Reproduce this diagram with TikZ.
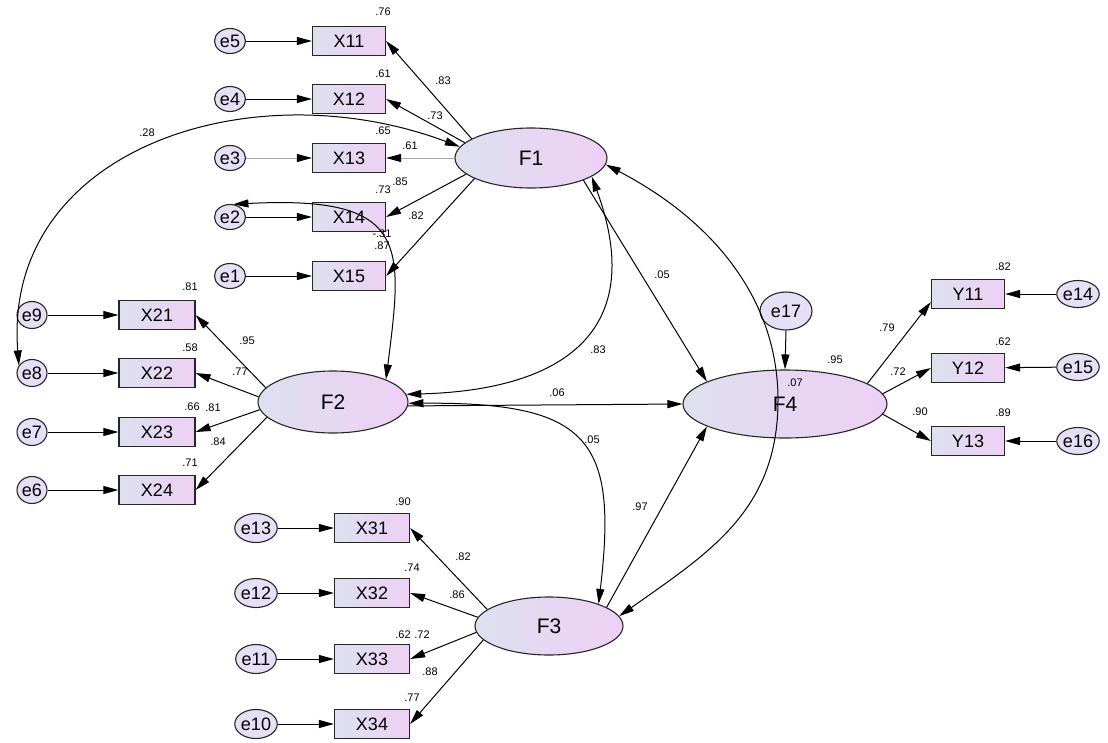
\documentclass[tikz,border=0pt]{standalone}
\usepackage{fontspec}
\setmainfont{Liberation Sans}
\usetikzlibrary{shapes.geometric,arrows.meta}
\definecolor{boxL}{RGB}{222,224,240}
\definecolor{boxR}{RGB}{238,208,244}
\definecolor{errC}{RGB}{230,224,246}
\definecolor{lineG}{RGB}{170,170,170}
\begin{document}
\begin{tikzpicture}[x=1pt,y=-1pt,
  obs/.style={rectangle, draw=black!85, line width=1.2pt, minimum width=73pt, minimum height=29pt, inner sep=0pt, left color=boxL, right color=boxR, font=\fontsize{18}{18}\selectfont},
  lat/.style={ellipse, draw=black!85, line width=1.1pt, inner sep=0pt, left color=boxL, right color=boxR, font=\fontsize{21}{21}\selectfont},
  err/.style={ellipse, draw=black!85, line width=1.1pt, minimum width=31pt, minimum height=25pt, inner sep=0pt, fill=errC, font=\fontsize{18}{18}\selectfont},
  lbl/.style={font=\fontsize{11}{11}\selectfont, inner sep=0pt},
  arr/.style={-{Triangle[length=15pt,width=8pt]}, line width=1pt},
  arrg/.style={-{Triangle[length=15pt,width=8pt,color=black]}, draw=lineG, line width=1pt},
  cov/.style={{Triangle[length=15pt,width=8pt]}-{Triangle[length=15pt,width=8pt]}, line width=1pt},
]
\useasboundingbox (0,0) rectangle (1108,742);
\fill[white] (0,0) rectangle (1108,742);

% ---------- latent variables
\node[lat, minimum width=152pt, minimum height=60pt] (F1) at (531,158) {F1};
\node[lat, minimum width=150pt, minimum height=62pt] (F2) at (333,402) {F2};
\node[lat, minimum width=148pt, minimum height=58pt] (F3) at (549,626) {F3};
\node[lat, minimum width=204pt, minimum height=68pt] (F4) at (785,404) {F4};

% ---------- F1 indicators
\node[obs] (X11) at (349,41) {X11};
\node[obs] (X12) at (349,99) {X12};
\node[obs] (X13) at (349,158) {X13};
\node[obs] (X14) at (349,217) {X14};
\node[obs] (X15) at (349,276) {X15};
\node[err] (e5) at (230,41) {e5};
\node[err] (e4) at (230,99) {e4};
\node[err] (e3) at (230,158) {e3};
\node[err] (e2) at (230,217) {e2};
\node[err] (e1) at (230,276) {e1};

% ---------- F2 indicators
\node[obs, minimum width=76pt] (X21) at (157,315) {X21};
\node[obs, minimum width=76pt] (X22) at (157,373) {X22};
\node[obs, minimum width=76pt] (X23) at (157,432) {X23};
\node[obs, minimum width=76pt] (X24) at (157,490) {X24};
\node[err, minimum width=30pt, minimum height=27pt] (e9) at (32,315) {e9};
\node[err, minimum width=30pt, minimum height=27pt] (e8) at (32,373) {e8};
\node[err, minimum width=30pt, minimum height=27pt] (e7) at (32,432) {e7};
\node[err, minimum width=30pt, minimum height=27pt] (e6) at (32,490) {e6};

% ---------- F3 indicators
\node[obs, minimum width=75pt] (X31) at (372,528) {X31};
\node[obs, minimum width=75pt] (X32) at (372,593) {X32};
\node[obs, minimum width=75pt] (X33) at (372,659) {X33};
\node[obs, minimum width=75pt] (X34) at (372,724) {X34};
\node[err, minimum width=34pt, minimum height=29pt] (e13) at (256,528) {e13};
\node[err, minimum width=34pt, minimum height=29pt] (e12) at (256,593) {e12};
\node[err, minimum width=34pt, minimum height=29pt] (e11) at (256,659) {e11};
\node[err, minimum width=34pt, minimum height=29pt] (e10) at (256,724) {e10};

% ---------- F4 indicators
\node[obs] (Y11) at (968,294) {Y11};
\node[obs] (Y12) at (968,368) {Y12};
\node[obs] (Y13) at (968,441) {Y13};
\node[err, minimum width=37pt, minimum height=27pt] (e14) at (1078,294) {e14};
\node[err, minimum width=37pt, minimum height=27pt] (e15) at (1078,367) {e15};
\node[err, minimum width=37pt, minimum height=27pt] (e16) at (1078,441) {e16};
\node[err, minimum width=52pt, minimum height=38pt] (e17) at (786,311) {e17};

% ---------- error arrows
\draw[arr] (e5) -- (X11);
\draw[arr] (e4) -- (X12);
\draw[arrg] (e3) -- (X13);
\draw[arr] (e2) -- (X14);
\draw[arr] (e1) -- (X15);
\draw[arr] (e9) -- (X21);
\draw[arr] (e8) -- (X22);
\draw[arr] (e7) -- (X23);
\draw[arr] (e6) -- (X24);
\draw[arr] (e13) -- (X31);
\draw[arr] (e12) -- (X32);
\draw[arr] (e11) -- (X33);
\draw[arr] (e10) -- (X34);
\draw[arr] (e14) -- (Y11);
\draw[arr] (e15) -- (Y12);
\draw[arr] (e16) -- (Y13);
\draw[arr] (e17.south) -- (F4.north);

% ---------- loadings
\draw[arr] (F1.162) -- (X11.east);
\draw[arr] (F1.167) -- (X12.east);
\draw[arrg] (F1.180) -- (X13.east);
\draw[arr] (F1.194) -- (X14.east);
\draw[arr] (F1.200) -- (X15.east);
\draw[arr] (F2.168) -- (X21.east);
\draw[arr] (F2.176) -- (X22.east);
\draw[arr] (F2.186) -- (X23.east);
\draw[arr] (F2.193) -- (X24.east);
\draw[arr] (F3.165) -- (X31.east);
\draw[arr] (F3.173) -- (X32.east);
\draw[arr] (F3.185) -- (X33.east);
\draw[arr] (F3.192) -- (X34.east);
\draw[arr] (F4.14) -- ([yshift=-8pt]Y11.west);
\draw[arr] (F4.6) -- (Y12.west);
\draw[arr] (F4.-6) -- (Y13.west);

% ---------- structural paths
\draw[arr] (F1.-23) -- (F4.164);
\draw[arr] (F2.-3) -- (F4.west);
\draw[arr] (F3.18) -- (F4.196);

% ---------- covariances
\draw[cov] (F1.-17) .. controls (648,330) and (565,390) .. (F2.6);
\draw[cov] (F2.-1) .. controls (590,402) and (618,440) .. (F3.24);
\draw[cov] (F1.-5) .. controls (714,221) and (778,300) .. (778,400)
                   .. controls (778,510) and (710,552) .. (F3.8);
\draw[cov] (e8.150) .. controls (2,150) and (250,68) .. (F1.171);
\draw[cov] (e2.75) .. controls (410,195) and (403,245) .. (F2.23);

% ---------- estimates
\node[lbl] (t1) at (383,12) {.76};
\node[lbl] (t2) at (383,74) {.61};
\node[lbl] (t3) at (443,81) {.83};
\node[lbl] (t4) at (435,116) {.73};
\node[lbl] (t5) at (383,131) {.65};
\node[lbl] (t6) at (410,146) {.61};
\node[lbl] (t7) at (400,182) {.85};
\node[lbl] (t8) at (383,190) {.73};
\node[lbl] (t9) at (416,216) {.82};
\node[lbl] (t10) at (382,234) {-.31};
\node[lbl] (t11) at (382,246) {.87};
\node[lbl] (t12) at (147,133) {.28};

\node[lbl] (t13) at (190,287) {.81};
\node[lbl] (t14) at (247,341) {.95};
\node[lbl] (t15) at (190,348) {.58};
\node[lbl] (t16) at (240,372) {.77};
\node[lbl] (t17) at (192,407) {.66};
\node[lbl] (t18) at (213,408) {.81};
\node[lbl] (t19) at (218,442) {.84};
\node[lbl] (t20) at (190,463) {.71};

\node[lbl] (t21) at (403,502) {.90};
\node[lbl] (t22) at (463,557) {.82};
\node[lbl] (t23) at (412,568) {.74};
\node[lbl] (t24) at (457,595) {.86};
\node[lbl] (t25) at (403,635) {.62};
\node[lbl] (t26) at (422,635) {.72};
\node[lbl] (t27) at (430,672) {.88};
\node[lbl] (t28) at (412,698) {.77};

\node[lbl] (t29) at (1003,267) {.82};
\node[lbl] (t30) at (887,328) {.79};
\node[lbl] (t31) at (835,360) {.95};
\node[lbl] (t32) at (1003,342) {.62};
\node[lbl] (t33) at (898,372) {.72};
\node[lbl] (t34) at (795,383) {.07};
\node[lbl] (t35) at (920,412) {.90};
\node[lbl] (t36) at (1003,413) {.89};

\node[lbl] (t37) at (662,275) {.05};
\node[lbl] (t38) at (598,350) {.83};
\node[lbl] (t39) at (557,393) {.06};
\node[lbl] (t40) at (592,440) {.05};
\node[lbl] (t41) at (640,507) {.97};
\end{tikzpicture}
\end{document}
